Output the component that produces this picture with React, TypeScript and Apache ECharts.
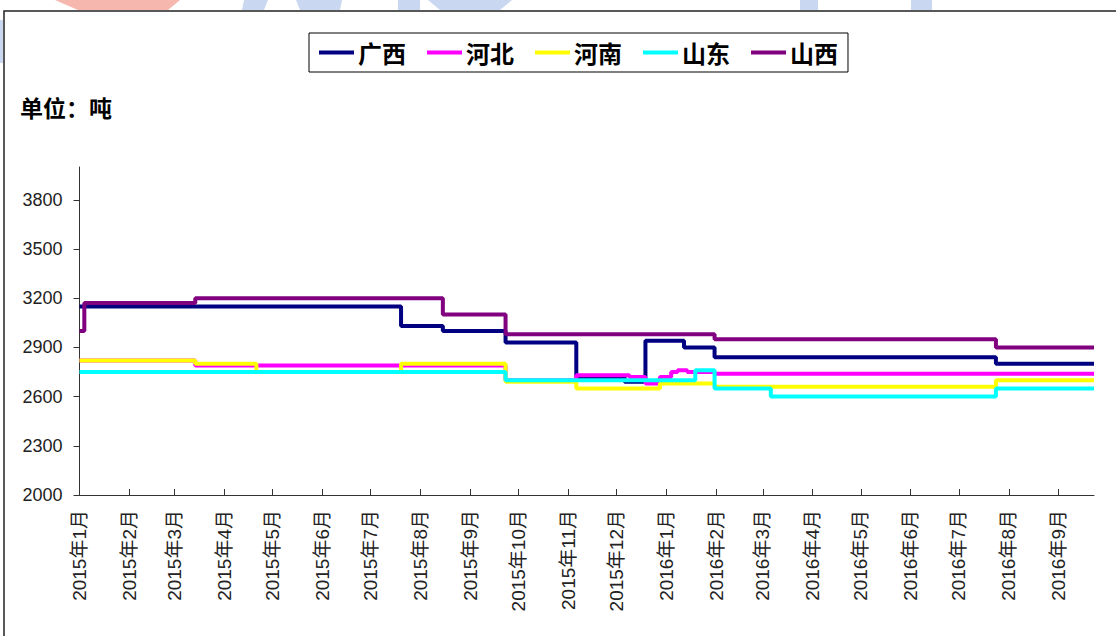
import React, { useEffect, useRef } from "react";
import * as echarts from "echarts";

const seriesNames = ["广西", "河北", "河南", "山东", "山西"];
const seriesColors = ["#000080", "#FF00FF", "#FFFF00", "#00FFFF", "#800080"];

const startDate = "2015-01-01";
const endDate = "2016-09-23";

// change points: [date the price starts, price]
const guangxi: [string, number][] = [
  ["2015-01-01", 3150],
  ["2015-07-20", 3030],
  ["2015-08-15", 3000],
  ["2015-09-23", 2930],
  ["2015-11-06", 2720],
  ["2015-12-06", 2690],
  ["2015-12-19", 2940],
  ["2016-01-12", 2900],
  ["2016-01-31", 2840],
  ["2016-07-24", 2800],
];
const hebei: [string, number][] = [
  ["2015-01-01", 2820],
  ["2015-03-14", 2790],
  ["2015-09-23", 2700],
  ["2015-11-06", 2730],
  ["2015-12-09", 2720],
  ["2015-12-19", 2680],
  ["2015-12-28", 2720],
  ["2016-01-04", 2750],
  ["2016-01-08", 2760],
  ["2016-01-14", 2750],
  ["2016-01-31", 2740],
];
const henan: [string, number][] = [
  ["2015-01-01", 2820],
  ["2015-03-14", 2800],
  ["2015-04-21", 2750],
  ["2015-07-20", 2800],
  ["2015-09-23", 2690],
  ["2015-11-06", 2650],
  ["2015-12-28", 2680],
  ["2016-01-31", 2660],
  ["2016-07-24", 2700],
];
const shandong: [string, number][] = [
  ["2015-01-01", 2750],
  ["2015-09-23", 2700],
  ["2016-01-19", 2760],
  ["2016-01-31", 2650],
  ["2016-03-06", 2600],
  ["2016-07-24", 2650],
];
const shanxi: [string, number][] = [
  ["2015-01-01", 3000],
  ["2015-01-04", 3170],
  ["2015-03-14", 3200],
  ["2015-08-15", 3100],
  ["2015-09-23", 2980],
  ["2016-01-31", 2950],
  ["2016-07-24", 2900],
];

const yTickValues = [2000, 2300, 2600, 2900, 3200, 3500, 3800];

const monthStarts = [
  "2015-01-01", "2015-02-01", "2015-03-01", "2015-04-01", "2015-05-01", "2015-06-01",
  "2015-07-01", "2015-08-01", "2015-09-01", "2015-10-01", "2015-11-01", "2015-12-01",
  "2016-01-01", "2016-02-01", "2016-03-01", "2016-04-01", "2016-05-01", "2016-06-01",
  "2016-07-01", "2016-08-01", "2016-09-01",
];

function dayIndex(s: string): number {
  const [y, m, d] = s.split("-").map(Number);
  const [y0, m0, d0] = startDate.split("-").map(Number);
  return Math.round((Date.UTC(y, m - 1, d) - Date.UTC(y0, m0 - 1, d0)) / 86400000);
}

function toPoints(arr: [string, number][]): [number, number][] {
  const pts: [number, number][] = arr.map(([d, v]) => [dayIndex(d), v]);
  pts.push([dayIndex(endDate), arr[arr.length - 1][1]]);
  return pts;
}

const allData = [guangxi, hebei, henan, shandong, shanxi];

export default function App() {
  const ref = useRef<HTMLDivElement>(null);
  useEffect(() => {
    if (!ref.current) return;
    const chart = echarts.init(ref.current, undefined, { renderer: "svg" });
    const labelMap: Record<number, string> = {};
    monthStarts.forEach((s) => {
      const [y, m] = s.split("-").map(Number);
      labelMap[dayIndex(s)] = `${y}年${m}月`;
    });
    const labelDays = monthStarts.map(dayIndex);
    const tickDays = labelDays.slice(1);
    const numFont = "'Liberation Sans', 'Noto Sans CJK SC', sans-serif";
    const cjkFont = "'Noto Sans CJK SC', sans-serif";

    chart.setOption({
      animation: false,
      backgroundColor: "#ffffff",
      title: {
        text: "单位：吨",
        left: 20,
        top: 95,
        padding: 0,
        textStyle: { fontSize: 23, fontWeight: "bold", color: "#000", fontFamily: cjkFont },
      },
      legend: {
        data: seriesNames,
        left: 309,
        top: 33,
        orient: "horizontal",
        icon: "rect",
        itemWidth: 35,
        itemHeight: 4,
        itemGap: 21,
        padding: [7, 10, 7, 10],
        backgroundColor: "#fff",
        borderColor: "#000",
        borderWidth: 1,
        textStyle: {
          fontSize: 24,
          fontWeight: "bold",
          color: "#000",
          fontFamily: cjkFont,
          lineHeight: 25,
          padding: [0, 0, 0, -1],
        },
      },
      graphic: [
        {
          type: "rect",
          silent: true,
          shape: { x: 4, y: 11, width: 1200, height: 700 },
          style: { fill: "none", stroke: "#222", lineWidth: 1.5 },
        },
        { type: "polygon", silent: true, shape: { points: [[55, 0], [180, 0], [168, 10], [78, 10]] }, style: { fill: "#f6b7ae" } },
        { type: "polygon", silent: true, shape: { points: [[244, 0], [268, 0], [264, 10], [242, 10]] }, style: { fill: "#c9d8f0" } },
        { type: "polygon", silent: true, shape: { points: [[296, 0], [342, 0], [340, 10], [300, 10]] }, style: { fill: "#c9d8f0" } },
        { type: "polygon", silent: true, shape: { points: [[398, 0], [420, 0], [420, 10], [398, 10]] }, style: { fill: "#c9d8f0" } },
        { type: "polygon", silent: true, shape: { points: [[428, 0], [512, 0], [500, 10], [440, 10]] }, style: { fill: "#c9d8f0" } },
        { type: "polygon", silent: true, shape: { points: [[800, 0], [818, 0], [818, 10], [800, 10]] }, style: { fill: "#c9d8f0" } },
        { type: "polygon", silent: true, shape: { points: [[911, 0], [932, 0], [932, 10], [911, 10]] }, style: { fill: "#c9d8f0" } },
        { type: "polygon", silent: true, shape: { points: [[0, 20], [3, 20], [3, 63], [0, 63]] }, style: { fill: "#c9d8f0" } },
      ],
      grid: { left: 79.5, right: 22, top: 167, bottom: 141 },
      xAxis: {
        type: "value",
        min: 0,
        max: dayIndex(endDate),
        axisLine: { show: true, lineStyle: { color: "#333", width: 1 } },
        axisTick: { show: true, inside: true, length: 6, customValues: tickDays, lineStyle: { color: "#333" } },
        axisLabel: {
          customValues: labelDays,
          rotate: 90,
          margin: 15,
          fontSize: 19,
          color: "#222",
          fontFamily: numFont,
          formatter: (v: number) => labelMap[v] ?? "",
        },
        splitLine: { show: false },
      },
      yAxis: {
        type: "value",
        min: 2000,
        max: 4000,
        axisLine: { show: true, lineStyle: { color: "#333", width: 1 } },
        axisTick: { show: true, inside: false, length: 6, customValues: yTickValues, lineStyle: { color: "#333" } },
        axisLabel: {
          customValues: yTickValues,
          margin: 17,
          fontSize: 18,
          color: "#222",
          fontFamily: numFont,
          formatter: (v: number) => String(v),
        },
        splitLine: { show: false },
      },
      series: seriesNames.map((name, i) => ({
        name,
        type: "line",
        step: "end",
        symbol: "none",
        showSymbol: false,
        data: toPoints(allData[i]),
        lineStyle: { width: 4, color: seriesColors[i] },
        itemStyle: { color: seriesColors[i] },
      })),
    });
    return () => chart.dispose();
  }, []);
  return (
    <div
      ref={ref}
      style={{ position: "absolute", left: 0, top: 0, width: 1116, height: 636, background: "#fff" }}
    />
  );
}
